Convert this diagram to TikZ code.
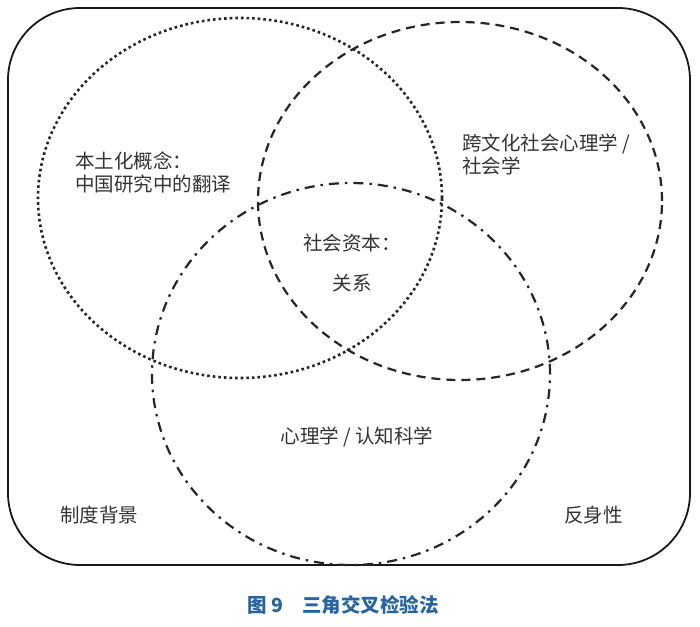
\documentclass[tikz,border=0pt]{standalone}
\usepackage{fontspec}
\usetikzlibrary{shapes.geometric}
\setmainfont{Noto Sans CJK SC}
\begin{document}
\begin{tikzpicture}[x=1pt,y=-1pt,
  lbl/.style={inner sep=0pt, text=black!80, font=\fontsize{19.5}{23}\selectfont},
  ring/.style={line width=2.2pt, black!85}]
\useasboundingbox (0,0) rectangle (700,626);
\fill[white] (0,0) rectangle (700,626);
% frame
\node[draw=black!90, line width=1.8pt, rounded corners=72pt, minimum width=682pt, minimum height=557pt, inner sep=0pt] (frame) at (349,286.5) {};
% circles
\node[ring, draw, ellipse, line width=2.6pt, dash pattern=on 2.6pt off 3pt, minimum width=404pt, minimum height=360pt, inner sep=0pt] (left) at (240,198) {};
\node[ring, draw, ellipse, dash pattern=on 9pt off 6pt, minimum width=404pt, minimum height=358pt, inner sep=0pt] (right) at (460,201) {};
\node[ring, draw, ellipse, dash pattern=on 10pt off 6pt on 2.5pt off 6pt, minimum width=398pt, minimum height=382pt, inner sep=0pt] (bottom) at (351,374) {};
% labels
\node[lbl, anchor=north west, align=left] (t1) at (75,152) {本土化概念：\\中国研究中的翻译};
\node[lbl, anchor=north west, align=left] (t2) at (462,134) {跨文化社会心理学 /\\社会学};
\node[lbl, align=center, font=\fontsize{19.5}{40}\selectfont] (t3) at (352,263) {社会资本：\\关系};
\node[lbl] (t4) at (357,437) {心理学 / 认知科学};
\node[lbl, anchor=west] (t5) at (60,515) {制度背景};
\node[lbl, anchor=west] (t6) at (564,515) {反身性};
\node[inner sep=0pt, text={rgb,255:red,40;green,100;blue,160}, font=\fontsize{19.5}{23}\selectfont\bfseries] (cap) at (343,605) {图 9\hspace{1em}三角交叉检验法};
\end{tikzpicture}
\end{document}
